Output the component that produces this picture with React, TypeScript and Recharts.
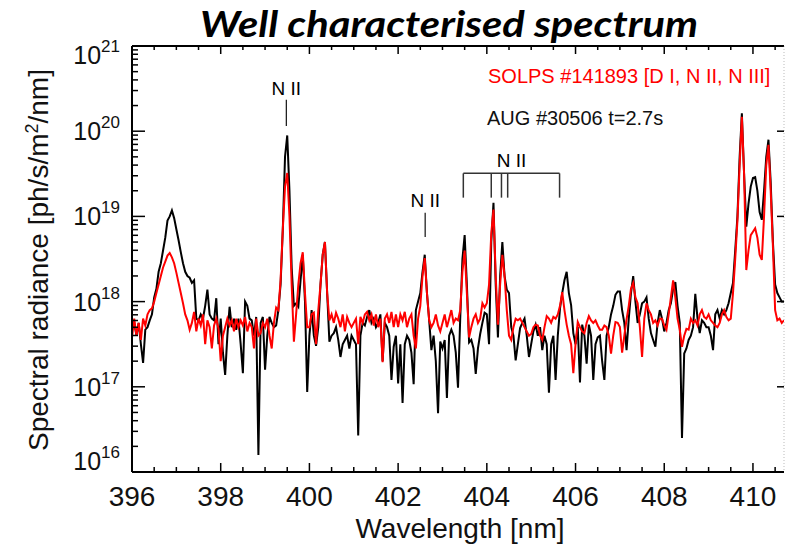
import { LineChart, Line, XAxis, YAxis, ReferenceLine } from "recharts";

const WL_START = 396;
const WL_STEP = 0.05;

// log10 of spectral radiance, AUG #30506 t=2.7s (black), one row per nm
const AUG_LOG = [
  17.7, 17.75, 17.6, 17.75, 17.5, 17.28, 17.67, 17.7, 17.78, 17.85, 18.05, 18.15, 18.35, 18.45, 18.6, 18.75, 18.95, 19.0, 19.07, 18.98,
  18.85, 18.72, 18.58, 18.45, 18.35, 18.3, 18.28, 18.22, 18.25, 17.8, 17.78, 17.85, 17.8, 17.95, 18.14, 17.85, 17.8, 17.78, 18.04, 17.5,
  17.8, 17.4, 17.14, 17.6, 17.94, 17.7, 17.8, 17.67, 17.8, 17.5, 17.16, 18.0, 17.95, 17.8, 17.78, 17.6, 17.82, 16.2, 17.75, 17.82,
  17.2, 17.6, 17.82, 17.75, 17.7, 17.72, 17.9, 18.2, 18.85, 19.7, 19.95, 19.3, 18.4, 17.95, 17.98, 17.94, 18.25, 18.55, 18.0, 16.94,
  17.6, 17.9, 17.6, 17.48, 17.7, 18.2, 18.55, 18.7, 18.1, 17.53, 17.6, 17.63, 17.7, 17.55, 17.35, 17.5, 17.55, 17.6, 17.45, 17.6,
  17.55, 17.5, 16.43, 17.6, 17.75, 17.72, 17.82, 17.9, 17.75, 17.8, 17.7, 17.75, 17.85, 17.3, 17.75, 17.7, 17.6, 17.08, 17.47, 17.6,
  17.04, 17.5, 16.81, 17.5, 17.6, 17.55, 17.4, 17.03, 17.9, 18.0, 18.1, 18.35, 18.55, 18.1, 17.78, 17.43, 17.6, 17.3, 16.69, 17.53,
  17.45, 17.55, 16.87, 17.6, 17.67, 17.6, 17.4, 16.99, 17.8, 18.5, 18.78, 18.2, 17.52, 17.55, 17.45, 17.15, 17.45, 17.62, 17.75, 17.87,
  17.85, 17.5, 18.7, 19.16, 18.2, 17.58, 18.3, 18.7, 18.3, 18.14, 18.1, 17.7, 17.6, 17.31, 17.5, 17.69, 17.75, 17.8, 17.6, 17.35,
  17.5, 17.65, 17.73, 17.6, 17.7, 17.43, 17.6, 17.5, 16.93, 17.5, 17.6, 17.08, 17.6, 17.92, 18.1, 18.25, 18.35, 18.1, 17.96, 17.63,
  17.5, 17.7, 17.05, 17.73, 17.6, 17.27, 17.73, 17.6, 17.08, 17.5, 17.58, 17.6, 17.3, 17.08, 17.6, 17.7, 17.85, 17.95, 18.08, 18.12,
  18.12, 17.9, 17.75, 17.43, 17.8, 18.1, 18.3, 18.0, 17.75, 17.85, 17.98, 18.0, 18.05, 17.8, 17.63, 17.55, 17.47, 17.75, 17.9, 17.8,
  17.65, 17.75, 17.9, 17.98, 18.15, 18.23, 17.95, 17.75, 16.4, 17.39, 17.45, 17.55, 17.6, 17.7, 18.09, 17.8, 17.63, 17.78, 17.75, 17.7,
  17.7, 17.6, 17.43, 17.85, 17.9, 17.8, 17.9, 17.85, 17.9, 17.98, 18.1, 18.22, 18.6, 19.0, 19.7, 20.21, 19.5, 18.88, 19.15, 19.35,
  19.45, 19.46, 19.3, 19.05, 18.96, 19.3, 19.7, 19.9, 19.4, 18.7, 18.2, 18.1, 18.05, 18.0, 18.0,
];

// log10 of spectral radiance, SOLPS #141893 [D I, N II, N III] (red)
const SOLPS_LOG = [
  17.58, 17.8, 17.6, 17.75, 17.55, 17.8, 17.72, 17.85, 17.9, 17.92, 18.0, 18.1, 18.2, 18.3, 18.4, 18.47, 18.54, 18.57, 18.52, 18.45,
  18.34, 18.22, 18.1, 17.98, 17.85, 17.78, 17.67, 17.75, 17.88, 17.65, 17.8, 17.72, 17.85, 17.5, 17.78, 17.7, 17.45, 17.72, 17.8, 17.68,
  17.3, 17.6, 17.7, 17.8, 17.72, 17.78, 17.65, 17.8, 17.7, 17.78, 17.72, 17.82, 17.65, 17.75, 17.7, 17.45, 17.8, 17.6, 17.63, 17.75,
  17.7, 17.8, 17.6, 17.45, 17.75, 17.93, 17.9, 18.25, 18.85, 19.35, 19.51, 19.0, 18.2, 17.53, 17.85, 18.2, 18.45, 18.58, 18.1, 17.7,
  17.7, 17.85, 17.87, 17.5, 17.9, 18.2, 18.55, 18.7, 18.1, 17.78, 17.85, 17.75, 17.87, 17.8, 17.7, 17.85, 17.65, 17.82, 17.75, 17.7,
  17.75, 17.8, 17.5, 17.82, 17.75, 17.85, 17.88, 17.78, 17.85, 17.72, 17.85, 17.7, 17.8, 17.29, 17.8, 17.85, 17.75, 17.88, 17.7, 17.85,
  17.7, 17.85, 17.78, 17.88, 17.7, 17.8, 17.85, 17.6, 17.45, 17.8, 17.95, 18.3, 18.51, 18.1, 17.78, 17.7, 17.75, 17.85, 17.72, 17.65,
  17.75, 17.85, 17.7, 17.8, 17.9, 17.75, 17.8, 17.78, 17.9, 18.35, 18.6, 18.1, 17.58, 17.7, 17.8, 17.85, 17.75, 17.8, 17.98, 17.93,
  17.98, 18.2, 18.8, 19.08, 18.3, 17.73, 18.2, 18.55, 18.3, 17.9, 17.6, 17.55, 17.7, 17.8, 17.78, 17.8, 17.75, 17.7, 17.65, 17.6,
  17.62, 17.7, 17.73, 17.72, 17.6, 17.55, 17.7, 17.83, 17.8, 17.75, 17.82, 17.8, 17.85, 17.95, 18.11, 17.9, 17.73, 17.6, 17.5, 17.16,
  17.5, 17.76, 17.7, 17.65, 17.63, 17.75, 17.83, 17.78, 17.75, 17.78, 17.72, 17.67, 17.67, 17.72, 17.7, 17.6, 17.39, 17.6, 17.76, 17.75,
  17.7, 17.4, 17.6, 17.79, 17.95, 18.15, 18.22, 18.05, 17.98, 17.7, 17.35, 17.8, 17.98, 17.9, 17.85, 17.75, 17.78, 17.72, 17.8, 17.8,
  17.72, 17.67, 17.85, 18.05, 18.25, 18.05, 17.8, 17.67, 17.47, 17.6, 17.68, 17.67, 17.8, 17.75, 17.78, 17.72, 17.85, 17.9, 17.82, 17.8,
  17.85, 17.78, 17.75, 17.72, 17.7, 17.75, 17.85, 17.9, 17.82, 17.78, 17.8, 18.1, 18.5, 18.95, 19.6, 20.17, 19.5, 18.37, 18.6, 18.78,
  18.82, 18.86, 18.75, 18.55, 18.49, 19.0, 19.6, 19.84, 19.3, 18.65, 17.9, 17.78, 17.8, 17.75, 17.78,
];

// axes
const X_DOMAIN = [396, 410.7];
const X_MAJOR = [396, 398, 400, 402, 404, 406, 408, 410];
const Y_DECADES = [16, 17, 18, 19, 20, 21];

// line identifications
const NII_SINGLE = [
  { wl: 399.48, top: 2.34e20, bottom: 1.15e20 },
  { wl: 402.61, top: 1.1e19, bottom: 5.75e18 },
];
const NII_GROUP = [403.47, 404.1, 404.33, 404.47, 405.64];
const GROUP_TOP = 3.2e19;
const GROUP_BOTTOM = 1.66e19;

const FONT = "'Liberation Sans', Arial, sans-serif";

const data = AUG_LOG.map((v, i) => ({
  wl: Math.round((WL_START + i * WL_STEP) * 100) / 100,
  aug: Math.pow(10, v),
  solps: Math.pow(10, SOLPS_LOG[i]),
}));

const xTicks: number[] = [];
for (let w = X_MAJOR[0]; w <= 410.5; w += 0.5) xTicks.push(w);

const yTicks: number[] = [];
Y_DECADES.forEach((d) => {
  yTicks.push(Math.pow(10, d));
  if (d < 21) for (let m = 2; m <= 9; m++) yTicks.push(m * Math.pow(10, d));
});
const yMajor = Y_DECADES.map((d) => Math.pow(10, d));

const isMajorX = (v: number) => X_MAJOR.includes(v);
const decadeOf = (v: number) => {
  const l = Math.log10(v);
  return Math.abs(l - Math.round(l)) < 1e-6 ? Math.round(l) : null;
};

const BottomTick = (props: any) => {
  const { x, y, payload } = props;
  const major = isMajorX(payload.value);
  return (
    <g>
      <line x1={x} x2={x} y1={y} y2={y - (major ? 9 : 5)} stroke="#000" strokeWidth={1.5} />
      {major && (
        <text x={x} y={y + 34} textAnchor="middle" fontSize={28} fontFamily={FONT} fill="#111">
          {payload.value}
        </text>
      )}
    </g>
  );
};

const TopTick = (props: any) => {
  const { x, y, payload } = props;
  const major = isMajorX(payload.value);
  return <line x1={x} x2={x} y1={y} y2={y + (major ? 8 : 4)} stroke="#000" strokeWidth={1.5} />;
};

const LeftTick = (props: any) => {
  const { x, y, payload } = props;
  const dec = decadeOf(payload.value);
  if (dec === null) {
    return <line x1={x} x2={x + 6} y1={y} y2={y} stroke="#000" strokeWidth={1.5} />;
  }
  const shift = dec === 16 ? -11 : dec === 21 ? 9 : 0;
  return (
    <g>
      <line x1={x} x2={x + 13} y1={y} y2={y} stroke="#000" strokeWidth={1.5} />
      <text x={x - 12} y={y + 9 + shift} textAnchor="end" fontSize={25} fontFamily={FONT} fill="#111">
        10
        <tspan dy={-12} fontSize={17}>
          {dec}
        </tspan>
      </text>
    </g>
  );
};

const RightTick = (props: any) => {
  const { x, y } = props;
  return <line x1={x} x2={x - 7} y1={y} y2={y} stroke="#000" strokeWidth={1.5} />;
};

const annoLabel = (offset: number) => ({
  value: "N II",
  position: "top" as const,
  offset,
  fill: "#000",
  fontSize: 19,
  fontFamily: FONT,
});

export default function App() {
  return (
    <div style={{ position: "absolute", left: 0, top: 0, width: 785, height: 547, background: "#fff" }}>
      <LineChart
        width={785}
        height={547}
        data={data}
        margin={{ top: 45, right: 0, bottom: 0, left: 0 }}
      >
        <XAxis
          dataKey="wl"
          type="number"
          domain={X_DOMAIN}
          allowDataOverflow
          ticks={xTicks}
          interval={0}
          height={75}
          tickSize={0}
          tickMargin={0}
          tick={<BottomTick />}
          axisLine={{ stroke: "#000", strokeWidth: 2 }}
        />
        <XAxis
          xAxisId="top"
          orientation="top"
          dataKey="wl"
          type="number"
          domain={X_DOMAIN}
          allowDataOverflow
          ticks={xTicks}
          interval={0}
          height={1}
          tickSize={0}
          tickMargin={0}
          tick={<TopTick />}
          axisLine={{ stroke: "#000", strokeWidth: 2 }}
        />
        <YAxis
          scale="log"
          domain={[1e16, 1e21]}
          allowDataOverflow
          ticks={yTicks}
          interval={0}
          width={132}
          tickSize={0}
          tickMargin={0}
          tick={<LeftTick />}
          axisLine={{ stroke: "#000", strokeWidth: 2 }}
        />
        <YAxis
          yAxisId="right"
          orientation="right"
          scale="log"
          domain={[1e16, 1e21]}
          allowDataOverflow
          ticks={yMajor}
          interval={0}
          width={1}
          tickSize={0}
          tickMargin={0}
          tick={<RightTick />}
          axisLine={{ stroke: "#bbb", strokeWidth: 1, strokeDasharray: "1 2" }}
        />
        <Line
          dataKey="aug"
          type="linear"
          stroke="#000"
          strokeWidth={2}
          dot={false}
          isAnimationActive={false}
        />
        <Line
          dataKey="solps"
          type="linear"
          stroke="#ff0000"
          strokeWidth={2}
          dot={false}
          isAnimationActive={false}
        />
        {NII_SINGLE.map((m, i) => (
          <ReferenceLine
            key={`nii-${i}`}
            segment={[
              { x: m.wl, y: m.top },
              { x: m.wl, y: m.bottom },
            ]}
            stroke="#222"
            strokeWidth={1.3}
            label={annoLabel(i === 0 ? 5 : 6)}
          />
        ))}
        <ReferenceLine
          segment={[
            { x: NII_GROUP[0], y: GROUP_TOP },
            { x: NII_GROUP[NII_GROUP.length - 1], y: GROUP_TOP },
          ]}
          stroke="#333"
          strokeWidth={1.5}
          label={annoLabel(6)}
        />
        {NII_GROUP.map((wl, i) => (
          <ReferenceLine
            key={`grp-${i}`}
            segment={[
              { x: wl, y: GROUP_TOP },
              { x: wl, y: GROUP_BOTTOM },
            ]}
            stroke="#333"
            strokeWidth={1.5}
          />
        ))}
      </LineChart>
      <svg
        width={785}
        height={547}
        style={{ position: "absolute", left: 0, top: 0, pointerEvents: "none" }}
      >
        <text
          x={449}
          y={37}
          textAnchor="middle"
          fontFamily="Lato, 'Open Sans', sans-serif"
          fontWeight={700}
          fontStyle="italic"
          fontSize={37}
          textLength={498}
          lengthAdjust="spacingAndGlyphs"
          fill="#000"
        >
          Well characterised spectrum
        </text>
        <text
          transform="translate(48,260) rotate(-90)"
          textAnchor="middle"
          fontFamily={FONT}
          fontSize={28}
          fill="#111"
        >
          Spectral radiance [ph/s/m
          <tspan dy={-10} fontSize={18}>
            2
          </tspan>
          <tspan dy={10}>/nm]</tspan>
        </text>
        <text x={460} y={538} textAnchor="middle" fontFamily={FONT} fontSize={28} fill="#111">
          Wavelength [nm]
        </text>
        <text x={488} y={83} fontFamily={FONT} fontSize={20} fill="#ff0000">
          SOLPS #141893 [D I, N II, N III]
        </text>
        <text x={487} y={125} fontFamily={FONT} fontSize={20} fill="#111">
          AUG #30506 t=2.7s
        </text>
      </svg>
    </div>
  );
}
